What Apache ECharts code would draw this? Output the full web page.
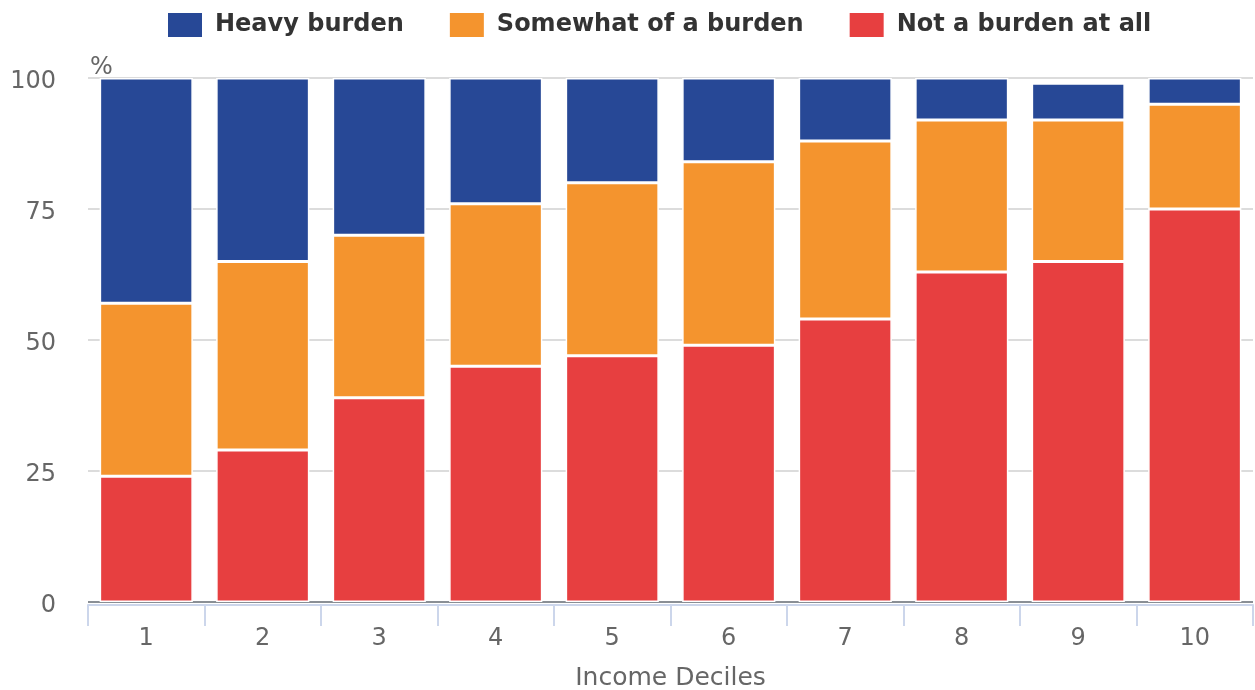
<!DOCTYPE html>
<html>
<head>
<meta charset="utf-8">
<script src="https://cdn.jsdelivr.net/npm/echarts@6/dist/echarts.min.js"></script>
<style>
html,body{margin:0;padding:0;background:#fff;}
#chart{width:1255px;height:690px;}
</style>
</head>
<body>
<div id="chart"></div>
<script>
var categories = ['1','2','3','4','5','6','7','8','9','10'];
var notBurden = [24, 29, 39, 45, 47, 49, 54, 63, 65, 75];
var somewhatBurden = [33, 36, 31, 31, 33, 35, 34, 29, 27, 20];
var heavyBurden = [43, 35, 30, 24, 20, 16, 12, 8, 7, 5];
var yTicks = [0, 25, 50, 75, 100];

var font = '"DejaVu Sans", sans-serif';
var chart = echarts.init(document.getElementById('chart'));
var barStyle = function (c) { return { color: c, borderColor: '#ffffff', borderWidth: 1.5 }; };
chart.setOption({
  animation: false,
  textStyle: { fontFamily: font },
  legend: {
    top: 11,
    left: 166,
    padding: 0,
    icon: 'rect',
    itemWidth: 36,
    itemHeight: 26,
    itemGap: 44,
    data: ['Heavy burden', 'Somewhat of a burden', 'Not a burden at all'],
    textStyle: { fontFamily: font, fontSize: 24, fontWeight: 'bold', color: '#333333', padding: [0, 0, 0, 7] }
  },
  grid: { left: 88, right: 2, top: 78, bottom: 88, containLabel: false, outerBoundsMode: 'none' },
  xAxis: {
    type: 'category',
    data: categories,
    offset: 3,
    name: 'Income Deciles',
    nameLocation: 'middle',
    nameGap: 61,
    nameTextStyle: { fontFamily: font, fontSize: 25, color: '#666666' },
    axisLine: { show: true, onZero: false, lineStyle: { color: '#ccd6eb', width: 2 } },
    axisTick: { show: true, length: 21, lineStyle: { color: '#ccd6eb', width: 2 } },
    axisLabel: { fontFamily: font, fontSize: 24, color: '#666666', margin: 22 }
  },
  yAxis: {
    type: 'value',
    min: yTicks[0],
    max: yTicks[yTicks.length - 1],
    interval: 25,
    name: '%',
    nameLocation: 'end',
    nameGap: 0,
    nameTextStyle: { fontFamily: font, fontSize: 24, color: '#666666', align: 'left', verticalAlign: 'bottom', padding: [0, 0, -2, 2] },
    axisLine: { show: false },
    axisTick: { show: false },
    axisLabel: {
      margin: 32,
      formatter: '{v|{value}}',
      rich: { v: { fontFamily: font, fontSize: 24, color: '#666666', padding: [8, 0, 0, 0] } }
    },
    splitLine: { showMinLine: true, lineStyle: { color: ['#8a8f95', '#dcdcdc', '#dcdcdc', '#dcdcdc', '#dcdcdc'], width: 2 } }
  },
  series: [
    { name: 'Not a burden at all', type: 'bar', stack: 'total', data: notBurden, barWidth: '80%', itemStyle: barStyle('#e73f40') },
    { name: 'Somewhat of a burden', type: 'bar', stack: 'total', data: somewhatBurden, barWidth: '80%', itemStyle: barStyle('#f4942e') },
    { name: 'Heavy burden', type: 'bar', stack: 'total', data: heavyBurden, barWidth: '80%', itemStyle: barStyle('#274896') }
  ]
});
</script>
</body>
</html>
